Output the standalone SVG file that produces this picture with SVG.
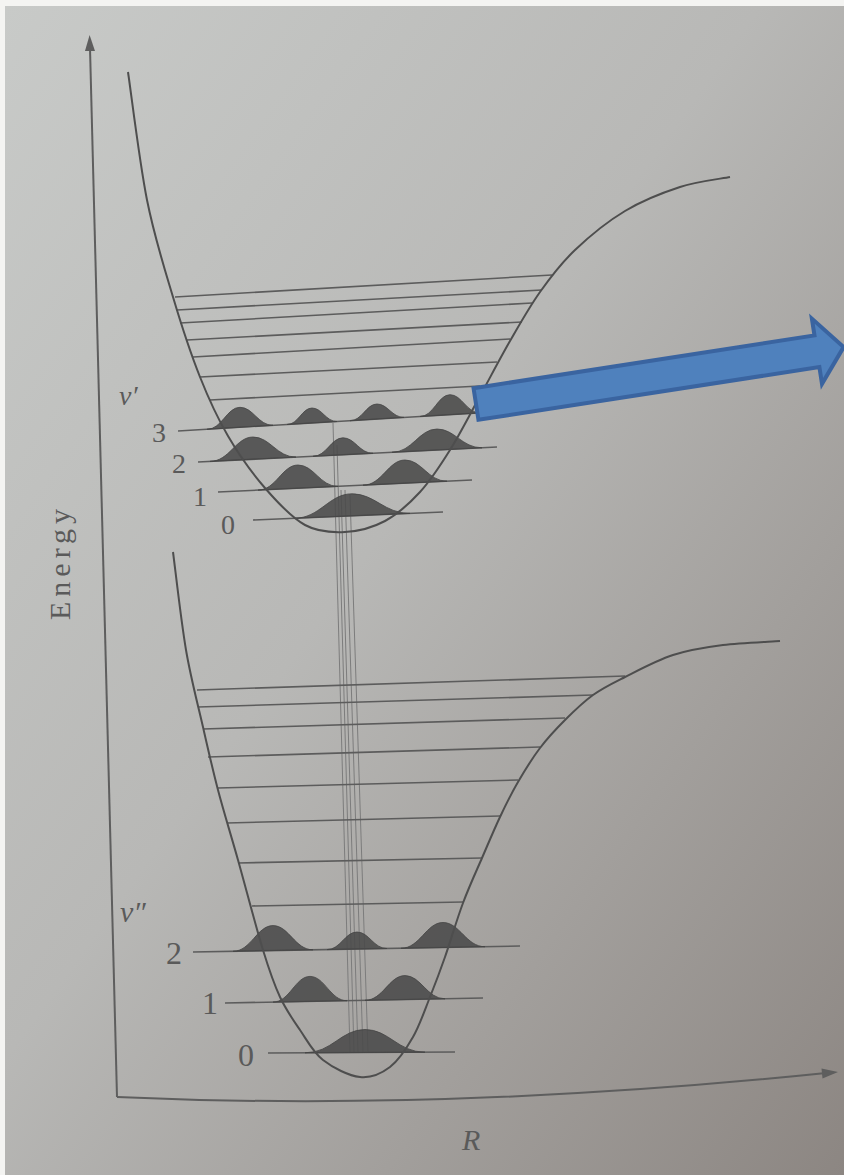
<svg xmlns="http://www.w3.org/2000/svg" width="844" height="1175" viewBox="0 0 844 1175">
<defs>
<linearGradient id="bg" x1="0" y1="0" x2="1" y2="1">
<stop offset="0" stop-color="#c8cac8"/>
<stop offset="0.45" stop-color="#b8b8b6"/>
<stop offset="1" stop-color="#8c8682"/>
</linearGradient>
<style>
.curve{fill:none;stroke:#4e4e4e;stroke-width:2;stroke-linejoin:round}
.lvl{stroke:#5c5c5c;stroke-width:1.6}
.lobe{fill:#4a4a4a;fill-opacity:0.88;stroke:#444;stroke-width:0.8}
.tr{stroke:#7c7c7c;stroke-width:1}
.axis{fill:none;stroke:#5e5e5e;stroke-width:2}
.lab{fill:#5a5a5a}
</style>
</defs>
<rect x="0" y="0" width="844" height="1175" fill="#f4f4f2"/>
<rect x="5" y="6" width="839" height="1169" fill="url(#bg)"/>

<g id="axes">
<line class="axis" x1="90" y1="48" x2="117" y2="1097"/>
<polygon points="89.6,35 85,51 95,51" fill="#5e5e5e"/>
<path class="axis" d="M117,1097 Q450,1112 826,1073"/>
<polygon points="838,1072 821.5,1068.6 822.5,1078.6" fill="#5e5e5e"/>
<text class="lab" font-family="'Liberation Serif', serif" x="0" y="0" font-size="30" letter-spacing="5" transform="translate(70,620) rotate(-90)">Energy</text>
<text class="lab" font-family="'Liberation Serif', serif" x="462" y="1150" font-size="30" font-style="italic">R</text>
</g>

<g id="transitions">
<line class="tr" x1="333" y1="423" x2="350" y2="1052"/>
<line class="tr" x1="337" y1="445" x2="354" y2="1052"/>
<line class="tr" x1="341" y1="490" x2="358" y2="1052"/>
<line class="tr" x1="345" y1="490" x2="363" y2="1052"/>
<line class="tr" x1="350" y1="495" x2="368" y2="1052"/>
</g>

<g id="upper-state">
<g id="upper-levels">
<line class="lvl" x1="175" y1="297" x2="552" y2="275"/>
<line class="lvl" x1="177" y1="310" x2="542" y2="290"/>
<line class="lvl" x1="180" y1="323" x2="532" y2="303"/>
<line class="lvl" x1="187" y1="340" x2="522" y2="322"/>
<line class="lvl" x1="193" y1="357" x2="510" y2="339"/>
<line class="lvl" x1="200" y1="377" x2="497" y2="362"/>
<line class="lvl" x1="210" y1="400" x2="480" y2="386"/>
<line class="lvl" x1="178" y1="431" x2="478" y2="413"/>
<line class="lvl" x1="198" y1="462" x2="497" y2="447"/>
<line class="lvl" x1="218" y1="492" x2="472" y2="480"/>
<line class="lvl" x1="253" y1="520" x2="443" y2="512"/>
</g>
<g id="upper-wavefunctions">
<path class="lobe" d="M207,429.3 C221.9,429.3 226.8,407.3 240,407.3 C253.2,407.3 258.1,425.3 273,425.3 Z"/>
<path class="lobe" d="M287,424.5 C298.3,424.5 302,408 312,408 C322,408 325.8,421.5 337,421.5 Z"/>
<path class="lobe" d="M350,420.7 C362.2,420.7 366.2,404 377,404 C387.8,404 391.9,417.4 404,417.4 Z"/>
<path class="lobe" d="M420,416.5 C433.5,416.5 438,394.7 450,394.7 C462,394.7 466.5,412.9 480,412.9 Z"/>
<path class="lobe" d="M210,461.4 C229.4,461.4 235.8,437 253,437 C270.2,437 276.7,457.1 296,457.1 Z"/>
<path class="lobe" d="M313,456.3 C326.5,456.3 331,437.8 343,437.8 C355,437.8 359.5,453.3 373,453.3 Z"/>
<path class="lobe" d="M392,452.3 C412.3,452.3 419,429 437,429 C455,429 461.8,447.8 482,447.8 Z"/>
<path class="lobe" d="M258,490.1 C276,490.1 282,465 298,465 C314,465 320,486.4 338,486.4 Z"/>
<path class="lobe" d="M363,485.2 C381.9,485.2 388.2,460 405,460 C421.8,460 428.1,481.2 447,481.2 Z"/>
<path class="lobe" d="M294,518.3 C320.1,518.3 328.8,493.8 352,493.8 C375.2,493.8 383.9,513.4 410,513.4 Z"/>
</g>
<path id="upper-curve" class="curve" d="M128,72 C131.2,93.3 139.5,162.5 147,200 C154.5,237.5 164.2,267.5 173,297 C181.8,326.5 190.8,353.8 200,377 C209.2,400.2 217.2,417.5 228,436 C238.8,454.5 252.2,473.2 265,488 C277.8,502.8 291.7,517.7 305,525 C318.3,532.3 331.7,532.7 345,532 C358.3,531.3 372.5,527.7 385,521 C397.5,514.3 409.2,503.8 420,492 C430.8,480.2 440,466 450,450 C460,434 470,414.2 480,396 C490,377.8 500,358.3 510,341 C520,323.7 529.2,307.2 540,292 C550.8,276.8 560.8,263.5 575,250 C589.2,236.5 607.5,221.5 625,211 C642.5,200.5 662.5,192.7 680,187 C697.5,181.3 721.7,178.7 730,177"/>
<text class="lab" font-family="'Liberation Serif', serif" x="119" y="405" font-size="28" font-style="italic">v′</text>
<text class="lab" font-family="'Liberation Serif', serif" x="152" y="442" font-size="28">3</text>
<text class="lab" font-family="'Liberation Serif', serif" x="172" y="473" font-size="28">2</text>
<text class="lab" font-family="'Liberation Serif', serif" x="193" y="506" font-size="28">1</text>
<text class="lab" font-family="'Liberation Serif', serif" x="221" y="534" font-size="28">0</text>
</g>

<g id="lower-state">
<g id="lower-levels">
<line class="lvl" x1="197" y1="690" x2="625" y2="676"/>
<line class="lvl" x1="198" y1="707" x2="593" y2="695"/>
<line class="lvl" x1="203" y1="729" x2="565" y2="718"/>
<line class="lvl" x1="208" y1="757" x2="540" y2="747"/>
<line class="lvl" x1="218" y1="788" x2="518" y2="780"/>
<line class="lvl" x1="227" y1="823" x2="500" y2="816"/>
<line class="lvl" x1="238" y1="863" x2="482" y2="858"/>
<line class="lvl" x1="252" y1="906" x2="463" y2="902"/>
<line class="lvl" x1="193" y1="952" x2="520" y2="946"/>
<line class="lvl" x1="225" y1="1003" x2="483" y2="998"/>
<line class="lvl" x1="268" y1="1053" x2="455" y2="1052"/>
</g>
<g id="lower-wavefunctions">
<path class="lobe" d="M233,951.3 C251,951.3 257,925.6 273,925.6 C289,925.6 295,949.8 313,949.8 Z"/>
<path class="lobe" d="M327,949.6 C340.5,949.6 345,932 357,932 C369,932 373.5,948.5 387,948.5 Z"/>
<path class="lobe" d="M401,948.3 C419.9,948.3 426.2,922.5 443,922.5 C459.8,922.5 466.1,946.7 485,946.7 Z"/>
<path class="lobe" d="M273,1002.1 C289.7,1002.1 295.2,976.4 310,976.4 C324.8,976.4 330.4,1000.7 347,1000.7 Z"/>
<path class="lobe" d="M365,1000.3 C383,1000.3 389,975.6 405,975.6 C421,975.6 427,998.8 445,998.8 Z"/>
<path class="lobe" d="M305,1052.8 C332,1052.8 341,1029.5 365,1029.5 C389,1029.5 398,1052.2 425,1052.2 Z"/>
</g>
<path id="lower-curve" class="curve" d="M173,552 C175.2,568.3 181,620.8 186,650 C191,679.2 197.7,703.7 203,727 C208.3,750.3 212.2,767.8 218,790 C223.8,812.2 230.5,833.3 238,860 C245.5,886.7 256,927.2 263,950 C270,972.8 273.8,983.7 280,997 C286.2,1010.3 292.8,1019.5 300,1030 C307.2,1040.5 313,1052.2 323,1060 C333,1067.8 348.8,1075.8 360,1077 C371.2,1078.2 381.2,1073.7 390,1067 C398.8,1060.3 406.3,1048.7 413,1037 C419.7,1025.3 424.7,1010.3 430,997 C435.3,983.7 439.5,972.7 445,957 C450.5,941.3 456.8,919.5 463,903 C469.2,886.5 475.8,872.3 482,858 C488.2,843.7 494,829.7 500,817 C506,804.3 511.3,793.5 518,782 C524.7,770.5 532.2,758.3 540,748 C547.8,737.7 556.2,728.8 565,720 C573.8,711.2 583,702.2 593,695 C603,687.8 611.7,683.7 625,677 C638.3,670.3 656.7,660.3 673,655 C689.3,649.7 705.2,647.3 723,645 C740.8,642.7 770.5,641.7 780,641"/>
<text class="lab" font-family="'Liberation Serif', serif" x="120" y="922" font-size="30" font-style="italic">v″</text>
<text class="lab" font-family="'Liberation Serif', serif" x="166" y="964" font-size="32">2</text>
<text class="lab" font-family="'Liberation Serif', serif" x="202" y="1014" font-size="32">1</text>
<text class="lab" font-family="'Liberation Serif', serif" x="238" y="1066" font-size="32">0</text>
</g>

<g id="blue-arrow">
<polygon points="0,-16 345,-16 345,-33 372,0 345,33 345,16 0,16" transform="translate(476,404) rotate(-8.8)" fill="#4f81bd" stroke="#3a64a0" stroke-width="4" stroke-linejoin="miter"/>
</g>
</svg>
